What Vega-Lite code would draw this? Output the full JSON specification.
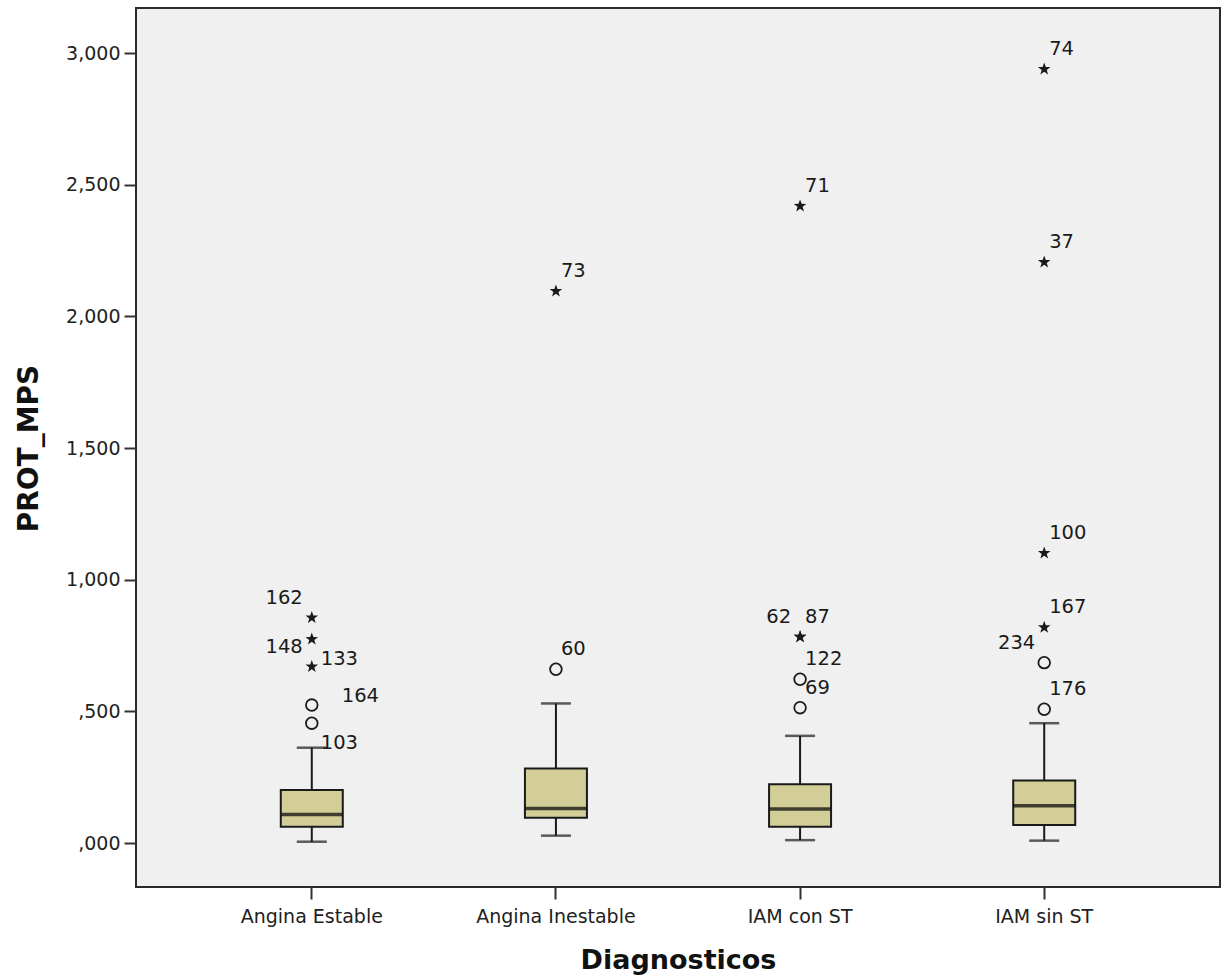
{
  "$schema": "https://vega.github.io/schema/vega-lite/v6.json",
  "width": 1084,
  "height": 879,
  "autosize": "none",
  "padding": {"left": 136, "top": 8, "right": 3, "bottom": 92},
  "background": "#ffffff",
  "config": {
    "font": "DejaVu Sans",
    "view": {"fill": "#f0f0f0", "stroke": "#2b2b2b", "strokeWidth": 2}
  },
  "datasets": {
    "boxes": [
      {"diag": "Angina Estable", "lower": 0.005, "q1": 0.062, "median": 0.108, "q3": 0.201, "upper": 0.362},
      {"diag": "Angina Inestable", "lower": 0.028, "q1": 0.096, "median": 0.131, "q3": 0.283, "upper": 0.530},
      {"diag": "IAM con ST", "lower": 0.011, "q1": 0.062, "median": 0.129, "q3": 0.223, "upper": 0.407},
      {"diag": "IAM sin ST", "lower": 0.009, "q1": 0.068, "median": 0.142, "q3": 0.237, "upper": 0.455}
    ],
    "outliers": [
      {"diag": "Angina Estable", "value": 0.455, "type": "circle", "label": "103", "pos": "dr"},
      {"diag": "Angina Estable", "value": 0.524, "type": "circle", "label": "164", "pos": "far"},
      {"diag": "Angina Estable", "value": 0.670, "type": "star", "label": "148", "pos": "ul"},
      {"diag": "Angina Estable", "value": 0.774, "type": "star", "label": "133", "pos": "dr"},
      {"diag": "Angina Estable", "value": 0.856, "type": "star", "label": "162", "pos": "ul"},
      {"diag": "Angina Inestable", "value": 0.660, "type": "circle", "label": "60", "pos": "ur"},
      {"diag": "Angina Inestable", "value": 2.096, "type": "star", "label": "73", "pos": "ur"},
      {"diag": "IAM con ST", "value": 0.514, "type": "circle", "label": "69", "pos": "ur"},
      {"diag": "IAM con ST", "value": 0.622, "type": "circle", "label": "122", "pos": "ur"},
      {"diag": "IAM con ST", "value": 0.783, "type": "star", "label": "62", "pos": "ul"},
      {"diag": "IAM con ST", "value": 0.783, "type": "star", "label": "87", "pos": "ur"},
      {"diag": "IAM con ST", "value": 2.419, "type": "star", "label": "71", "pos": "ur"},
      {"diag": "IAM sin ST", "value": 0.508, "type": "circle", "label": "176", "pos": "ur"},
      {"diag": "IAM sin ST", "value": 0.685, "type": "circle", "label": "234", "pos": "ul"},
      {"diag": "IAM sin ST", "value": 0.819, "type": "star", "label": "167", "pos": "ur"},
      {"diag": "IAM sin ST", "value": 1.101, "type": "star", "label": "100", "pos": "ur"},
      {"diag": "IAM sin ST", "value": 2.206, "type": "star", "label": "37", "pos": "ur"},
      {"diag": "IAM sin ST", "value": 2.939, "type": "star", "label": "74", "pos": "ur"}
    ]
  },
  "encoding": {
    "x": {
      "field": "diag",
      "type": "nominal",
      "scale": {"domain": ["Angina Estable", "Angina Inestable", "IAM con ST", "IAM sin ST"], "paddingOuter": 0.22, "paddingInner": 0},
      "axis": {
        "title": "Diagnosticos",
        "titleFont": "DejaVu Sans",
        "titleFontSize": 27,
        "titleFontWeight": "bold",
        "titleColor": "#111111",
        "titleBaseline": "alphabetic",
        "titleY": 81,
        "titleX": 542,
        "labelAngle": 0,
        "labelFontSize": 19,
        "labelColor": "#222222",
        "labelBaseline": "alphabetic",
        "labelPadding": 23,
        "tickSize": 12,
        "tickWidth": 2,
        "tickColor": "#333333",
        "domain": false,
        "grid": false
      }
    }
  },
  "layer": [
    {
      "data": {"name": "boxes"},
      "mark": {"type": "rule", "stroke": "#1a1a1a", "strokeWidth": 2},
      "encoding": {
        "y": {
          "field": "lower",
          "type": "quantitative",
          "title": "PROT_MPS",
          "scale": {"domain": [-0.167, 3.171], "nice": false, "zero": false},
          "axis": {
            "values": [0, 0.5, 1, 1.5, 2, 2.5, 3],
            "labelExpr": "datum.value < 1 ? replace(format(datum.value, '.3f'), '0.', ',') : replace(format(datum.value, '.3f'), '.', ',')",
            "labelFontSize": 19,
            "labelColor": "#222222",
            "labelPadding": 4,
            "tickSize": 12,
            "tickWidth": 2,
            "tickColor": "#333333",
            "domain": false,
            "grid": false,
            "titleFont": "DejaVu Sans",
            "titleFontSize": 28,
            "titleFontWeight": "bold",
            "titleColor": "#111111",
            "titleAngle": -90,
            "titleBaseline": "alphabetic",
            "titleAlign": "center",
            "titleX": -99,
            "titleY": 440
          }
        },
        "y2": {"field": "upper"}
      }
    },
    {
      "data": {"name": "boxes"},
      "mark": {"type": "tick", "size": 30, "thickness": 2.5, "color": "#1a1a1a", "orient": "horizontal"},
      "encoding": {"y": {"field": "lower", "type": "quantitative", "title": "PROT_MPS"}}
    },
    {
      "data": {"name": "boxes"},
      "mark": {"type": "tick", "size": 30, "thickness": 2.5, "color": "#1a1a1a", "orient": "horizontal"},
      "encoding": {"y": {"field": "upper", "type": "quantitative", "title": "PROT_MPS"}}
    },
    {
      "data": {"name": "boxes"},
      "mark": {"type": "bar", "width": 62, "fill": "#d3ce97", "stroke": "#1a1a1a", "strokeWidth": 2},
      "encoding": {
        "y": {"field": "q1", "type": "quantitative", "title": "PROT_MPS"},
        "y2": {"field": "q3"}
      }
    },
    {
      "data": {"name": "boxes"},
      "mark": {"type": "tick", "size": 61, "thickness": 3.5, "color": "#000000", "orient": "horizontal"},
      "encoding": {"y": {"field": "median", "type": "quantitative", "title": "PROT_MPS"}}
    },
    {
      "data": {"name": "outliers"},
      "transform": [{"filter": "datum.type === 'circle'"}],
      "mark": {"type": "point", "shape": "circle", "filled": false, "stroke": "#1a1a1a", "strokeWidth": 1.8, "size": 135, "opacity": 1},
      "encoding": {"y": {"field": "value", "type": "quantitative", "title": "PROT_MPS"}}
    },
    {
      "data": {"name": "outliers"},
      "transform": [{"filter": "datum.type === 'star'"}],
      "mark": {"type": "point", "shape": "M0,-1L0.24,-0.33L0.95,-0.31L0.38,0.12L0.59,0.81L0,0.4L-0.59,0.81L-0.38,0.12L-0.95,-0.31L-0.24,-0.33Z", "filled": true, "color": "#1a1a1a", "size": 175, "opacity": 1},
      "encoding": {"y": {"field": "value", "type": "quantitative", "title": "PROT_MPS"}}
    },
    {
      "data": {"name": "outliers"},
      "transform": [{"filter": "datum.pos === 'ur'"}],
      "mark": {"type": "text", "align": "left", "baseline": "middle", "dx": 5, "dy": -20, "fontSize": 19.5, "color": "#1a1a1a"},
      "encoding": {"y": {"field": "value", "type": "quantitative", "title": "PROT_MPS"}, "text": {"field": "label"}}
    },
    {
      "data": {"name": "outliers"},
      "transform": [{"filter": "datum.pos === 'ul'"}],
      "mark": {"type": "text", "align": "right", "baseline": "middle", "dx": -9, "dy": -20, "fontSize": 19.5, "color": "#1a1a1a"},
      "encoding": {"y": {"field": "value", "type": "quantitative", "title": "PROT_MPS"}, "text": {"field": "label"}}
    },
    {
      "data": {"name": "outliers"},
      "transform": [{"filter": "datum.pos === 'dr'"}],
      "mark": {"type": "text", "align": "left", "baseline": "middle", "dx": 9, "dy": 20, "fontSize": 19.5, "color": "#1a1a1a"},
      "encoding": {"y": {"field": "value", "type": "quantitative", "title": "PROT_MPS"}, "text": {"field": "label"}}
    },
    {
      "data": {"name": "outliers"},
      "transform": [{"filter": "datum.pos === 'far'"}],
      "mark": {"type": "text", "align": "left", "baseline": "middle", "dx": 30, "dy": -9, "fontSize": 19.5, "color": "#1a1a1a"},
      "encoding": {"y": {"field": "value", "type": "quantitative", "title": "PROT_MPS"}, "text": {"field": "label"}}
    }
  ]
}
